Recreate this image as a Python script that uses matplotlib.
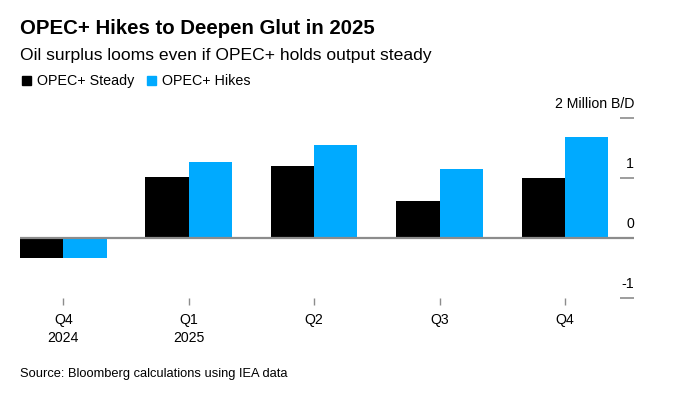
import matplotlib
matplotlib.use("Agg")
import matplotlib.pyplot as plt
import matplotlib.transforms as mtransforms
import numpy as np

plt.rcParams['font.family'] = ['Liberation Sans', 'DejaVu Sans']

# data (million barrels/day)
quarters = ["Q4\n2024", "Q1\n2025", "Q2", "Q3", "Q4"]
opec_steady = [-0.34, 1.02, 1.19, 0.62, 1.00]
opec_hikes = [-0.34, 1.265, 1.54, 1.14, 1.685]
y_ticks = [-1, 0, 1, 2]
y_labels = ["-1", "0", "1", "2 Million B/D"]

black = "#000000"
blue = "#00aaff"
gray = "#8c8c8c"

fig = plt.figure(figsize=(6.86, 3.96), dpi=100)
ax = fig.add_axes([20 / 686, 1 - 297.7 / 396, (634 - 20) / 686, 180 / 396])

x = np.arange(len(quarters))
w = 0.345
ax.bar(x - w / 2, opec_steady, width=w, color=black, linewidth=0)
ax.bar(x + w / 2, opec_hikes, width=w, color=blue, linewidth=0)

ax.set_xlim(-w, 4.55)
ax.set_ylim(-1, 2)
ax.axhline(0, color=gray, lw=1.6, zorder=3)

for s in ax.spines.values():
    s.set_visible(False)

# x ticks
ax.set_xticks(x)
ax.set_xticklabels(quarters, fontsize=10.2, linespacing=1.35)
ax.tick_params(axis='x', length=5, width=1, color=gray, pad=6)

# y ticks: short stubs on the right, labels sitting above them
ax.yaxis.tick_right()
ax.set_yticks(y_ticks)
ax.set_yticklabels([])
ax.tick_params(axis='y', direction='in', length=10, width=1.2, color=gray)
trans = mtransforms.blended_transform_factory(ax.transAxes, ax.transData)
for v, lab in zip(y_ticks, y_labels):
    ax.annotate(lab, (1.0, v), xycoords=trans, xytext=(0, 5), textcoords='offset points',
                ha='right', va='bottom', fontsize=10.2)

# titles and legend
fig.text(20 / 686, 1 - 34 / 396, "OPEC+ Hikes to Deepen Glut in 2025",
         fontsize=14.7, fontweight='bold', va='baseline')
fig.text(20 / 686, 1 - 60 / 396, "Oil surplus looms even if OPEC+ holds output steady",
         fontsize=12.6, va='baseline')

fig.patches.append(plt.Rectangle((22.5 / 686, 1 - 85 / 396), 9 / 686, 9 / 396,
                                 transform=fig.transFigure, color=black))
fig.text(37 / 686, 1 - 85 / 396, "OPEC+ Steady", fontsize=10.3, va='baseline')
fig.patches.append(plt.Rectangle((147 / 686, 1 - 85 / 396), 9 / 686, 9 / 396,
                                 transform=fig.transFigure, color=blue))
fig.text(162 / 686, 1 - 85 / 396, "OPEC+ Hikes", fontsize=10.3, va='baseline')

fig.text(20 / 686, 1 - 377 / 396, "Source: Bloomberg calculations using IEA data",
         fontsize=9.3, va='baseline')

fig.savefig("out.png", dpi=100, facecolor='white')
